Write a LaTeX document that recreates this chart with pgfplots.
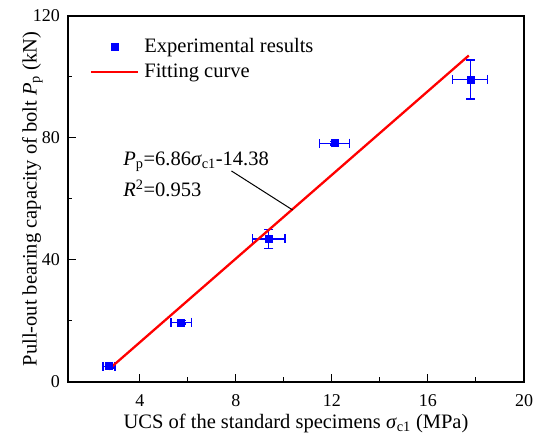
\documentclass[border=0pt]{standalone}
\usepackage{fontspec}
\setmainfont{Liberation Serif}
\usepackage{pgfplots}
\pgfplotsset{compat=1.18}
\pgfplotstableread{
x y ex ey
2.71 5.2 0.25 0.6
5.71 19.6 0.42 0.6
9.37 46.9 0.67 3.1
12.11 78.3 0.63 0.6
17.76 99.2 0.73 6.4
}\datatab
\begin{document}
\fontsize{20.5}{24}\selectfont
\begin{tikzpicture}
\begin{axis}[
  scale only axis, width=456pt, height=366pt,
  xmin=1, xmax=20, ymin=0, ymax=120,
  xtick={4,8,12,16,20}, ytick={0,40,80,120},
  minor x tick num=1, minor y tick num=1,
  tick align=inside, xtick pos=bottom, ytick pos=left,
  major tick length=8pt, minor tick length=4.5pt,
  every tick/.style={black, line width=1pt},
  axis line style={line width=1.1pt},
  /pgf/number format/assume math mode=true,
  ticklabel style={font=\fontsize{18}{21}\selectfont, inner sep=0pt},
  xticklabel style={yshift=-12pt},
  yticklabel style={xshift=-8pt},
  xlabel={UCS of the standard specimens \textit{σ}\textsubscript{c1} (MPa)},
  ylabel={Pull-out bearing capacity of bolt \textit{P}\textsubscript{p} (kN)},
  xlabel style={font=\fontsize{20.5}{24}\selectfont, inner sep=0pt, at={(axis description cs:0.5,-0.088)}, anchor=north},
  ylabel style={font=\fontsize{20.5}{24}\selectfont, inner sep=0pt, at={(axis description cs:-0.055,0.5)}, anchor=south},
  legend style={draw=none, fill=none, at={(0.048,0.945)}, anchor=north west,
     font=\fontsize{20.5}{24}\selectfont, row sep=4pt, inner sep=0pt,
     nodes={inner xsep=5pt}},
  legend cell align=left,
  legend image code/.code={\draw[mark repeat=2,mark phase=2,#1] plot coordinates {(0pt,0pt)(23.5pt,0pt)(47pt,0pt)};},
]
\addplot[only marks, mark=square*, blue, mark size=3.5pt,
  error bars/.cd, x dir=both, x explicit, y dir=both, y explicit,
  error bar style={line width=1.2pt, blue},
  error mark options={rotate=90, blue, mark size=4.5pt, line width=1.2pt}]
  table[x=x, y=y, x error=ex, y error=ey]{\datatab};
\addlegendentry{Experimental results}
\addplot[red, line width=2.3pt] coordinates {(2.7,4.14) (17.7,107.04)};
\addlegendentry{Fitting curve}
\draw[black, line width=1pt] (axis cs:7.81,69.2) -- (axis cs:10.36,56.4);
\node[anchor=base west, inner sep=0pt] at (axis cs:3.3,71) {\textit{P}\textsubscript{p}=6.86\textit{σ}\textsubscript{c1}-14.38};
\node[anchor=base west, inner sep=0pt] at (axis cs:3.3,60.7) {\textit{R}\textsuperscript{2}=0.953};
\end{axis}
\pgfresetboundingbox
\path ([shift={(-68pt,-52pt)}]current axis.south west) rectangle ([shift={(15pt,16pt)}]current axis.north east);
\end{tikzpicture}
\end{document}
